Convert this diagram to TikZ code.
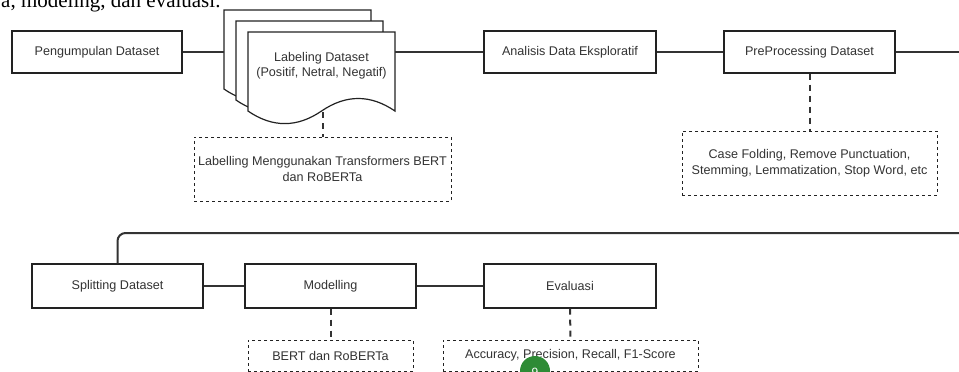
\documentclass[tikz,border=0pt]{standalone}
\usepackage{fontspec}
\setmainfont{Liberation Sans}
\newfontfamily\serifnote{Liberation Serif}
\definecolor{txt}{HTML}{333333}
\definecolor{edge}{HTML}{222222}
\definecolor{lnk}{HTML}{333333}
\definecolor{badge}{HTML}{2E8B35}
\tikzset{
  stepbox/.style={draw=edge, line width=1.2pt, fill=white, text=txt, inner sep=0pt,
    font=\fontsize{12.6}{16}\selectfont, align=center},
  notebox/.style={draw=edge, line width=1pt, dash pattern=on 3pt off 3pt, fill=white, text=txt,
    inner sep=0pt, font=\fontsize{12.6}{16}\selectfont, align=center},
  conn/.style={draw=lnk, line width=2pt},
  dconn/.style={draw=lnk, line width=2pt, dash pattern=on 6pt off 5pt},
  docpage/.style={draw=edge, line width=1.2pt, fill=white},
}
\begin{document}
\begin{tikzpicture}[x=1pt,y=-1pt]
\useasboundingbox (0,0) rectangle (959,372);
\clip (0,0) rectangle (959,372);

% cropped caption text at top
\node[anchor=base west, inner sep=0pt, text=black, font=\serifnote\fontsize{21}{24}\selectfont] (cap) at (1,7) {a, modeling, dan evaluasi.};

% row 1
\node[stepbox, minimum width=170pt, minimum height=42pt] (b1) at (97,52) {Pengumpulan Dataset};
\node[stepbox, minimum width=172pt, minimum height=42pt] (b3) at (570,52) {Analisis Data Eksploratif};
\node[stepbox, minimum width=171pt, minimum height=42pt] (b4) at (809.5,52) {PreProcessing Dataset};

% document stack
\foreach \sx/\sy in {224/10, 236/21, 248/32}{
  \begin{scope}[shift={(\sx,\sy)}]
    \path[docpage] (0,0) -- (147,0) -- (147,79.05)
      .. controls (122.5,62.31) and (98,62.31) .. (73.5,79.05)
      .. controls (49,95.79) and (24.5,95.79) .. (0,79.05) -- cycle;
  \end{scope}
}
\node[inner sep=0pt, text=txt, align=center, font=\fontsize{12.6}{15}\selectfont] (lab) at (321.5,65.5)
  {Labeling Dataset\\(Positif, Netral, Negatif)};
\coordinate (stackL) at (224,52);
\coordinate (stackR) at (395,52);
\coordinate (labbot) at (322.5,112);

% notes row 1
\node[notebox, minimum width=257pt, minimum height=64pt] (n1) at (322.5,169)
  {Labelling Menggunakan Transformers BERT\\dan RoBERTa};
\node[notebox, minimum width=255pt, minimum height=64pt] (n2) at (809.5,163)
  {Case Folding, Remove Punctuation,\\Stemming, Lemmatization, Stop Word, etc};

% row 2
\node[stepbox, minimum width=171pt, minimum height=44pt] (b5) at (117.5,286) {Splitting Dataset};
\node[stepbox, minimum width=171pt, minimum height=44pt] (b6) at (330.5,286) {Modelling};
\node[stepbox, minimum width=172pt, minimum height=44pt] (b7) at (570,286) {Evaluasi};
\node[notebox, minimum width=165pt, minimum height=31pt] (n3) at (330.5,355.5) {BERT dan RoBERTa};
\node[notebox, minimum width=255pt, minimum height=31pt] (n4) at (570.5,355.5) {Accuracy, Precision, Recall, F1-Score};

% connectors
\coordinate (r1end) at (960,52);
\coordinate (r2start) at (960,233);
\draw[conn] (b1.east) -- (stackL);
\draw[conn] (stackR) -- (b3.west);
\draw[conn] (b3.east) -- (b4.west);
\draw[conn] (b4.east) -- (r1end);
\draw[conn, rounded corners=8pt] (r2start) -- (b5.north |- r2start) -- (b5.north);
\draw[conn] (b5.east) -- (b6.west);
\draw[conn] (b6.east) -- (b7.west);
\draw[dconn] (labbot) -- (n1.north);
\draw[dconn] (b4.south) -- (n2.north);
\draw[dconn] (b6.south) -- (n3.north);
\draw[dconn] (b7.south) -- (n4.north);

% badge (cropped)
\fill[badge] (535,371) circle (15pt);
\node[anchor=base, inner sep=0pt, text=white, font=\fontsize{12}{14}\selectfont] (pg) at (535,376.5) {9};
\end{tikzpicture}
\end{document}
